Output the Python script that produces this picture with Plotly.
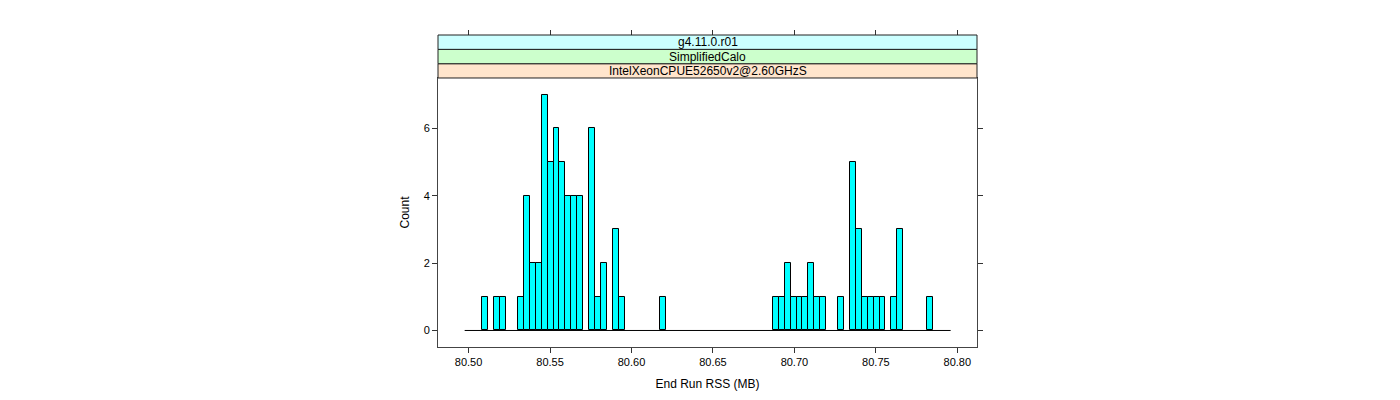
import plotly.graph_objects as go

# Histogram breaks (shared lattice breaks)
break_start = 80.4976
break_width = 0.003638
n_bins = 82

# Non-empty bins: bin index and count
bin_index = [3, 5, 6, 9, 10, 11, 12, 13, 14, 15, 16, 17, 18, 19, 21, 22, 23, 25, 26, 33,
             52, 53, 54, 55, 56, 57, 58, 59, 60, 63, 65, 66, 67, 68, 69, 70, 72, 73, 78]
counts = [1, 1, 1, 1, 4, 2, 2, 7, 5, 6, 5, 4, 4, 4, 6, 1, 2, 3, 1, 1,
          1, 1, 2, 1, 1, 1, 2, 1, 1, 1, 5, 3, 1, 1, 1, 1, 1, 3, 1]

x_ticks = [80.50, 80.55, 80.60, 80.65, 80.70, 80.75, 80.80]
x_tick_labels = ["80.50", "80.55", "80.60", "80.65", "80.70", "80.75", "80.80"]
y_ticks = [0, 2, 4, 6]

strip_labels = ["IntelXeonCPUE52650v2@2.60GHzS", "SimplifiedCalo", "g4.11.0.r01"]
strip_colors = ["#FFE5CC", "#CCFFCC", "#CCFFFF"]

centers = [break_start + (k + 0.5) * break_width for k in bin_index]
break_end = break_start + n_bins * break_width

FONT = "Liberation Sans, Arial, sans-serif"

fig = go.Figure()
fig.add_trace(go.Scatter(
    x=[break_start, break_end], y=[0, 0], mode="lines",
    line=dict(color="black", width=1), hoverinfo="skip", showlegend=False))
fig.add_trace(go.Bar(
    x=centers, y=counts, width=break_width,
    marker=dict(color="#00FFFF", line=dict(color="black", width=1)),
    showlegend=False))
# invisible trace for top axis
fig.add_trace(go.Scatter(x=[break_start], y=[0], xaxis="x2", mode="markers",
                         marker=dict(opacity=0), showlegend=False, hoverinfo="skip"))

x_range = [80.48123, 80.81209]
dom_top = 0.8622
strip_edges = [dom_top, 0.908, 0.954, 1.0]

fig.update_layout(
    width=1400, height=400,
    margin=dict(l=430, r=431, t=27, b=61),
    paper_bgcolor="white", plot_bgcolor="white",
    font=dict(family=FONT, size=11, color="black"),
    xaxis=dict(range=x_range, tickvals=x_ticks, ticktext=x_tick_labels,
               ticks="outside", ticklen=5, tickcolor="#333", showgrid=False, zeroline=False,
               showline=True, linecolor="#444", linewidth=1, mirror=True,
               title=dict(text="End Run RSS (MB)", font=dict(size=12), standoff=12),
               anchor="y"),
    xaxis2=dict(range=x_range, tickvals=x_ticks, overlaying="x", side="top",
                anchor="free", position=1.0, ticks="outside", ticklen=5, tickcolor="#333",
                showticklabels=False, showgrid=False, zeroline=False, showline=False),
    yaxis=dict(range=[-0.49, 7.49], tickvals=y_ticks, domain=[0, dom_top],
               ticks="outside", ticklen=5, tickcolor="#333", showgrid=False, zeroline=False,
               showline=True, linecolor="#444", linewidth=1, mirror="ticks",
               title=dict(text="Count", font=dict(size=12), standoff=11)),
    bargap=0,
)

for i, (lab, col) in enumerate(zip(strip_labels, strip_colors)):
    y0, y1 = strip_edges[i], strip_edges[i + 1]
    fig.add_shape(type="rect", xref="paper", yref="paper", x0=0, x1=1, y0=y0, y1=y1,
                  fillcolor=col, line=dict(color="#222", width=1), layer="above")
    fig.add_annotation(xref="paper", yref="paper", x=0.5, y=(y0 + y1) / 2, text=lab,
                       showarrow=False, font=dict(size=12, family=FONT, color="black"),
                       yanchor="middle", xanchor="center")

fig.write_html("out.html")
